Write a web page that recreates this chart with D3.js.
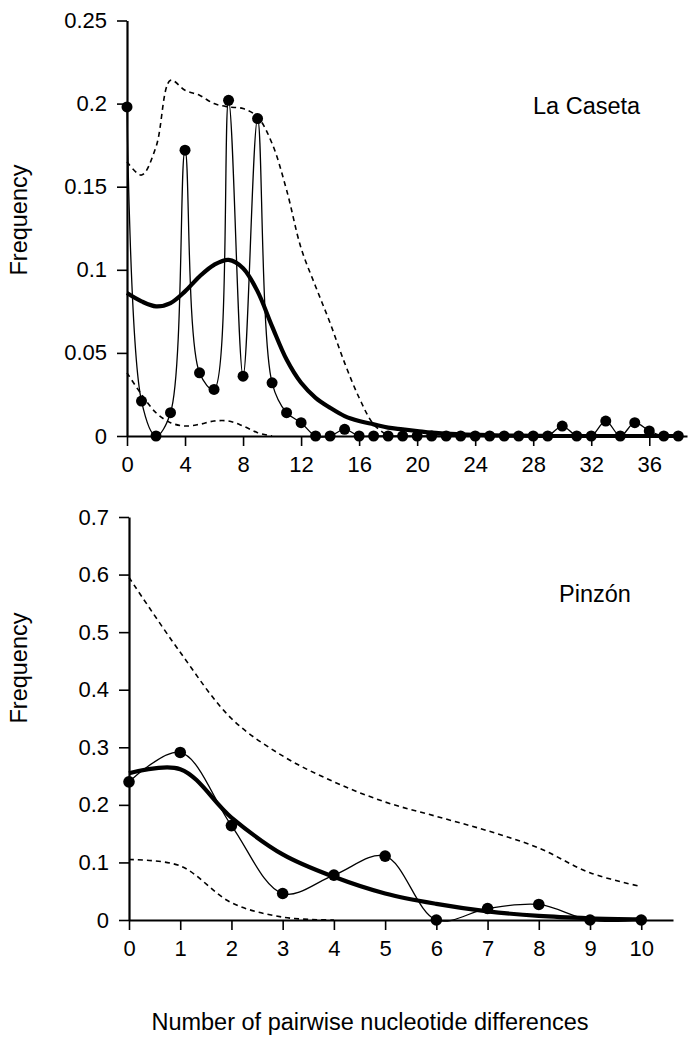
<!DOCTYPE html>
<html>
<head>
<meta charset="utf-8">
<script src="https://cdn.jsdelivr.net/npm/d3@7"></script>
<style>
  html, body { margin: 0; padding: 0; background: #fff; }
  svg { display: block; font-family: "Liberation Sans", Arial, sans-serif; }
</style>
</head>
<body>
<svg id="chart" width="689" height="1040"></svg>
<script>
// ---------- La Caseta (top panel) ----------
const casetaX = [0,1,2,3,4,5,6,7,8,9,10,11,12,13,14,15,16,17,18,19,20,21,22,23,24,25,26,27,28,29,30,31,32,33,34,35,36,37,38];
const casetaObserved = [0.198,0.021,0,0.014,0.172,0.038,0.028,0.202,0.036,0.191,0.032,0.014,0.008,0,0,0.004,0,0,0,0,0,0,0,0,0,0,0,0,0,0,0.006,0,0,0.009,0,0.008,0.003,0,0];
const casetaExpected = [0.086,0.081,0.078,0.080,0.087,0.096,0.103,0.106,0.101,0.087,0.066,0.046,0.032,0.023,0.017,0.012,0.009,0.007,0.005,0.004,0.003,0.002,0.0015,0.001,0.0007,0.0005,0.0003,0.0002,0.0001,0,0,0,0,0,0,0,0,0,0];
const casetaUpperX = [0,1,2,3,4,5,6,7,8,9,10,11,12,13,14,15,16,17,18];
const casetaUpper = [0.165,0.157,0.174,0.214,0.208,0.205,0.200,0.198,0.197,0.192,0.176,0.148,0.113,0.090,0.068,0.044,0.023,0.007,0];
const casetaLowerX = [0,1,2,3,4,5,6,7,8,9,10];
const casetaLower = [0.038,0.025,0.014,0.008,0.006,0.007,0.009,0.009,0.006,0.002,0];
const casetaXTicks = [0,4,8,12,16,20,24,28,32,36];
const casetaYTicks = [0,0.05,0.1,0.15,0.2,0.25];
const casetaYLabels = ["0","0.05","0.1","0.15","0.2","0.25"];

// ---------- Pinzón (bottom panel) ----------
const pinzonX = [0,1,2,3,4,5,6,7,8,9,10];
const pinzonObserved = [0.240,0.291,0.164,0.046,0.078,0.111,0,0.020,0.027,0,0];
const pinzonExpected = [0.255,0.262,0.178,0.114,0.075,0.046,0.028,0.015,0.007,0.003,0.001];
const pinzonUpper = [0.595,0.465,0.350,0.285,0.240,0.205,0.180,0.155,0.125,0.082,0.058];
const pinzonLowerX = [0,1,2,3,4];
const pinzonLower = [0.105,0.094,0.030,0.005,0];
const pinzonXTicks = [0,1,2,3,4,5,6,7,8,9,10];
const pinzonYTicks = [0,0.1,0.2,0.3,0.4,0.5,0.6,0.7];
const pinzonYLabels = ["0","0.1","0.2","0.3","0.4","0.5","0.6","0.7"];

const svg = d3.select("#chart");
const curve = d3.curveCatmullRom.alpha(0.5);
const FONT = "'Liberation Sans', Arial, sans-serif";

function panel(cfg) {
  const g = svg.append("g");
  const x = d3.scaleLinear().domain(cfg.xDomain).range(cfg.xRange);
  const y = d3.scaleLinear().domain(cfg.yDomain).range(cfg.yRange);

  // y axis
  const yAxis = d3.axisLeft(y).tickValues(cfg.yTicks)
    .tickFormat((d, i) => cfg.yLabels[i]).tickSize(10).tickSizeOuter(0).tickPadding(10);
  const ya = g.append("g").attr("transform", `translate(${cfg.xRange[0]},0)`).call(yAxis);
  ya.select(".domain").attr("stroke", "#000").attr("stroke-width", 2.2);
  ya.selectAll(".tick line").attr("stroke", "#000").attr("stroke-width", 1.6);
  ya.selectAll(".tick text").attr("font-size", 22).attr("fill", "#000").attr("font-family", FONT);

  // x axis
  const xAxis = d3.axisBottom(x).tickValues(cfg.xTicks).tickSize(10).tickSizeOuter(0).tickPadding(10);
  const xa = g.append("g").attr("transform", `translate(0,${cfg.yRange[0]})`).call(xAxis);
  xa.select(".domain").attr("stroke", "#000").attr("stroke-width", 1.8);
  xa.selectAll(".tick line").attr("stroke", "#000").attr("stroke-width", 1.6);
  xa.selectAll(".tick text").attr("font-size", 22).attr("fill", "#000").attr("font-family", FONT);

  const line = d3.line().x(d => x(d[0])).y(d => y(d[1])).curve(curve);

  // dashed envelopes
  cfg.dashed.forEach(s => {
    g.append("path").datum(d3.zip(s.x, s.y)).attr("d", line)
      .attr("fill", "none").attr("stroke", "#000").attr("stroke-width", 1.6)
      .attr("stroke-dasharray", "5,4");
  });
  // expected (thick)
  g.append("path").datum(d3.zip(cfg.expX, cfg.exp)).attr("d", line)
    .attr("fill", "none").attr("stroke", "#000").attr("stroke-width", 4.2);
  // observed (thin)
  g.append("path").datum(d3.zip(cfg.obsX, cfg.obs)).attr("d", line)
    .attr("fill", "none").attr("stroke", "#000").attr("stroke-width", 1.3);
  g.selectAll("circle.pt").data(d3.zip(cfg.obsX, cfg.obs)).join("circle")
    .attr("class", "pt").attr("cx", d => x(d[0])).attr("cy", d => y(d[1]))
    .attr("r", cfg.r).attr("fill", "#000");

  // panel label
  g.append("text").attr("x", cfg.label.x).attr("y", cfg.label.y)
    .attr("font-size", 23.5).attr("fill", "#000").text(cfg.label.text);

  // y title
  g.append("text").attr("transform", `translate(${cfg.yTitle.x},${cfg.yTitle.y}) rotate(-90)`)
    .attr("text-anchor", "middle").attr("font-size", 23.5).attr("fill", "#000").text("Frequency");
}

panel({
  xDomain: [0, 38.6], xRange: [127, 687],
  yDomain: [0, 0.25], yRange: [436, 20.5],
  xTicks: casetaXTicks, yTicks: casetaYTicks, yLabels: casetaYLabels,
  obsX: casetaX, obs: casetaObserved, expX: casetaX, exp: casetaExpected,
  dashed: [{x: casetaUpperX, y: casetaUpper}, {x: casetaLowerX, y: casetaLower}],
  r: 5.5,
  label: {x: 533, y: 114, text: "La Caseta"},
  yTitle: {x: 27, y: 220}
});

panel({
  xDomain: [0, 10.62], xRange: [129, 673],
  yDomain: [0, 0.7], yRange: [920, 517],
  xTicks: pinzonXTicks, yTicks: pinzonYTicks, yLabels: pinzonYLabels,
  obsX: pinzonX, obs: pinzonObserved, expX: pinzonX, exp: pinzonExpected,
  dashed: [{x: pinzonX, y: pinzonUpper}, {x: pinzonLowerX, y: pinzonLower}],
  r: 5.8,
  label: {x: 559, y: 602, text: "Pinzón"},
  yTitle: {x: 27, y: 668}
});

svg.append("text").attr("x", 370).attr("y", 1030).attr("text-anchor", "middle")
  .attr("font-size", 23.5).attr("fill", "#000").text("Number of pairwise nucleotide differences");
</script>
</body>
</html>
